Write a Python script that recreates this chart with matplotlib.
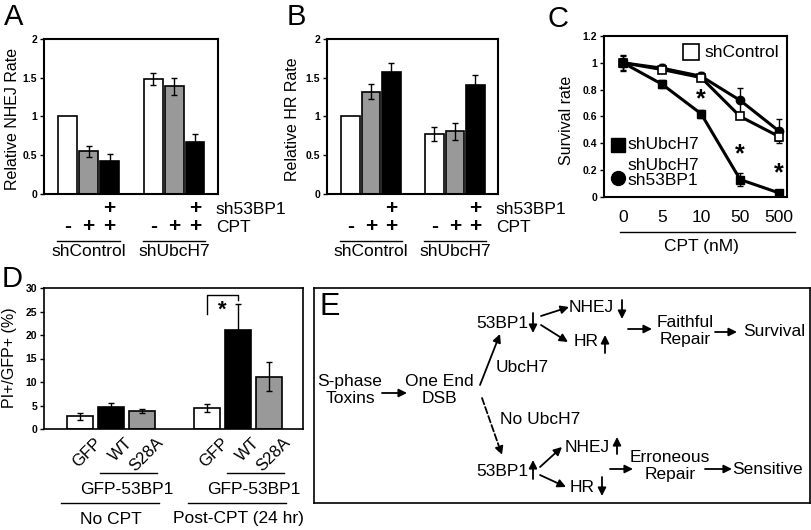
import matplotlib
matplotlib.use('Agg')
import matplotlib.pyplot as plt
from matplotlib.lines import Line2D
from matplotlib.transforms import blended_transform_factory

plt.rcParams['font.family'] = ['Liberation Sans', 'DejaVu Sans']
TICK_FONT = ['Liberation Sans Narrow', 'Liberation Sans', 'DejaVu Sans']

W, H = 812, 530

# ---- data ----
ab_groups = ['shControl', 'shUbcH7']
cpt_sign = ['-', '+', '+']
sh53_sign = ['', '', '+']
nhej = [1.0, 0.55, 0.43, 1.48, 1.39, 0.67]
nhej_err = [0, 0.07, 0.09, 0.08, 0.11, 0.10]
hr = [1.0, 1.32, 1.57, 0.78, 0.81, 1.41]
hr_err = [0, 0.10, 0.12, 0.09, 0.11, 0.12]

doses = ['0', '5', '10', '50', '500']
surv_ctrl = [1.0, 0.95, 0.89, 0.60, 0.45]
surv_ctrl_err = [0.03, 0.02, 0.02, 0.02, 0.03]
surv_ubc = [1.0, 0.84, 0.62, 0.13, 0.03]
surv_ubc_err = [0.05, 0.03, 0.03, 0.05, 0.01]
surv_dbl = [1.0, 0.96, 0.90, 0.72, 0.49]
surv_dbl_err = [0.06, 0.03, 0.03, 0.09, 0.09]
star_dose = [2, 3, 4]
star_y = [0.77, 0.36, 0.22]

d_labels = ['GFP', 'WT', 'S28A']
d_groups = ['No CPT', 'Post-CPT (24 hr)']
pi_gfp = [2.7, 4.6, 3.8, 4.5, 21.0, 11.1]
pi_gfp_err = [0.8, 1.0, 0.5, 0.9, 5.5, 3.1]

pos = [0, 1, 2, 4.1, 5.1, 6.1]
GRAY = '#999999'

fig = plt.figure(figsize=(W / 100, H / 100), dpi=100)


def px_rect(x0, y0, x1, y1):
    return [x0 / W, 1 - y1 / H, (x1 - x0) / W, (y1 - y0) / H]


def fy(y):
    return 1 - y / H


def hline(ax, x0, x1, y, lw=1.0):
    tr = blended_transform_factory(ax.transData, fig.transFigure)
    fig.add_artist(Line2D([x0, x1], [fy(y), fy(y)], transform=tr, color='black', lw=lw))


def btext(ax, x, y, s, **kw):
    tr = blended_transform_factory(ax.transData, fig.transFigure)
    fig.text(x, fy(y), s, transform=tr, **kw)


def style(ax, ticks, labels, lw=1.5):
    for s in ax.spines.values():
        s.set_linewidth(lw)
    ax.set_yticks(ticks, labels)
    ax.set_xticks([])
    ax.tick_params(axis='y', direction='out', length=3, width=1, pad=2)
    for lab in ax.get_yticklabels():
        lab.set_fontfamily(TICK_FONT)
        lab.set_fontweight('bold')
        lab.set_fontsize(7.5)


def bar_panel(rect, vals, errs, ylab, ylab_x, letter, letter_x):
    ax = fig.add_axes(px_rect(*rect))
    ax.bar(pos, vals, width=0.9, color=['white', GRAY, 'black'] * 2,
           edgecolor='black', linewidth=1.2, zorder=2)
    for p, v, e in zip(pos, vals, errs):
        if e > 0:
            ax.errorbar(p, v, yerr=e, color='black', lw=1, capsize=2, zorder=3)
    ax.set_xlim(-1.14, 7.2)
    ax.set_ylim(0, 2)
    style(ax, [0, 0.5, 1, 1.5, 2], ['0', '0.5', '1', '1.5', '2'])
    fig.text(ylab_x / W, fy(119), ylab, rotation=90, ha='center', va='center', fontsize=11.5)
    fig.text(letter_x / W, fy(17), letter, ha='left', va='center', fontsize=21)
    for g in range(2):
        p = pos[g * 3:(g + 1) * 3]
        for x, s1, s2 in zip(p, sh53_sign, cpt_sign):
            btext(ax, x, 208, s1, ha='center', va='center', fontsize=15, fontweight='bold')
            btext(ax, x, 227, s2, ha='center', va='center', fontsize=15, fontweight='bold')
        hline(ax, p[0] - 0.5, p[2] + 0.5, 241)
        btext(ax, p[1], 251, ab_groups[g], ha='center', va='center', fontsize=12.5)
    btext(ax, pos[5] + 1.0, 209, 'sh53BP1', ha='left', va='center', fontsize=12.5)
    btext(ax, pos[5] + 1.0, 228, 'CPT', ha='left', va='center', fontsize=12.5)
    return ax


bar_panel((44, 39, 218, 194), nhej, nhej_err, 'Relative NHEJ Rate', 13, 'A', 4)
bar_panel((327, 39, 498, 194), hr, hr_err, 'Relative HR Rate', 293, 'B', 287)

# ---- panel C ----
axc = fig.add_axes(px_rect(604, 36, 787, 197))
xs = list(range(len(doses)))
axc.errorbar(xs, surv_dbl, yerr=surv_dbl_err, color='black', lw=2.2, marker='o', ms=6,
             mfc='black', mec='black', capsize=2, elinewidth=1, zorder=3)
axc.errorbar(xs, surv_ctrl, yerr=surv_ctrl_err, color='black', lw=2.2, marker='s', ms=6,
             mfc='white', mec='black', mew=1.2, capsize=2, elinewidth=1, zorder=4)
axc.errorbar(xs, surv_ubc, yerr=surv_ubc_err, color='black', lw=2.2, marker='s', ms=6,
             mfc='black', mec='black', capsize=2, elinewidth=1, zorder=4)
for x, y in zip(star_dose, star_y):
    axc.text(x, y - 0.045, '*', ha='center', va='center', fontsize=18, fontweight='bold')
axc.set_xlim(-0.49, 4.2)
axc.set_ylim(0, 1.2)
style(axc, [0, 0.2, 0.4, 0.6, 0.8, 1.0, 1.2], ['0', '0.2', '0.4', '0.6', '0.8', '1', '1.2'])
axc.plot([0.475], [0.90], marker='s', ms=11, mfc='white', mec='black', mew=1.2,
         transform=axc.transAxes, clip_on=False)
axc.text(0.55, 0.90, 'shControl', transform=axc.transAxes, ha='left', va='center', fontsize=12.5)
axc.plot([0.075], [0.323], marker='s', ms=10, color='black', transform=axc.transAxes, clip_on=False)
axc.text(0.13, 0.323, 'shUbcH7', transform=axc.transAxes, ha='left', va='center', fontsize=12.5)
axc.plot([0.075], [0.12], marker='o', ms=10, color='black', transform=axc.transAxes, clip_on=False)
axc.text(0.13, 0.15, 'shUbcH7\nsh53BP1', transform=axc.transAxes, ha='left', va='center',
         fontsize=12.5, linespacing=1.05)
for x, d in zip(xs, doses):
    btext(axc, x, 218, d, ha='center', va='center', fontsize=12.5)
hline(axc, -0.08, 4.4, 232)
btext(axc, 2, 247, 'CPT (nM)', ha='center', va='center', fontsize=12.5)
fig.text(567 / W, fy(120), 'Survival rate', rotation=90, ha='center', va='center', fontsize=11.5)
fig.text(548 / W, fy(19), 'C', ha='left', va='center', fontsize=21)

# ---- panel D ----
axd = fig.add_axes(px_rect(44, 288, 303, 429))
axd.bar(pos, pi_gfp, width=0.84, color=['white', 'black', GRAY] * 2,
        edgecolor='black', linewidth=1.2, zorder=2)
axd.errorbar(pos, pi_gfp, yerr=pi_gfp_err, fmt='none', ecolor='black', elinewidth=1,
             capsize=2, zorder=3)
axd.set_xlim(-1.16, 7.2)
axd.set_ylim(0, 30)
style(axd, [0, 5, 10, 15, 20, 25, 30], ['0', '5', '10', '15', '20', '25', '30'], lw=1.2)
axd.plot([pos[3], pos[3], pos[4], pos[4]], [24.5, 28.5, 28.5, 27.4], color='black', lw=1)
axd.text((pos[3] + pos[4]) / 2, 25.3, '*', ha='center', va='center', fontsize=16, fontweight='bold')
trd = blended_transform_factory(axd.transData, fig.transFigure)
for g in range(2):
    p = pos[g * 3:(g + 1) * 3]
    for x, s in zip(p, d_labels):
        fig.text(x + 0.45, fy(435), s, transform=trd, rotation=45, ha='right', va='top',
                 rotation_mode='anchor', fontsize=12)
    hline(axd, p[1] - 0.35, p[2] + 0.5, 473)
    btext(axd, p[1] + 0.5, 489, 'GFP-53BP1', ha='center', va='center', fontsize=12.5)
    hline(axd, p[0] - 0.6, p[2] + 0.55, 503)
    btext(axd, p[1], 519, d_groups[g], ha='center', va='center', fontsize=12.5)
fig.text(10 / W, fy(358), 'PI+/GFP+ (%)', rotation=90, ha='center', va='center', fontsize=11.5)
fig.text(2 / W, fy(279), 'D', ha='left', va='center', fontsize=21)

# ---- panel E (diagram, pixel coordinates) ----
axe = fig.add_axes(px_rect(314, 288, 810, 503))
axe.set_xlim(314, 810)
axe.set_ylim(503, 288)
axe.set_xticks([])
axe.set_yticks([])
for s in axe.spines.values():
    s.set_linewidth(1.2)

e_texts = [
    (350, 390, 'S-phase\nToxins', 'center'),
    (439, 390, 'One End\nDSB', 'center'),
    (476, 323, '53BP1', 'left'),
    (569, 307, 'NHEJ', 'left'),
    (574, 342, 'HR', 'left'),
    (685, 331, 'Faithful\nRepair', 'center'),
    (774, 332, 'Survival', 'center'),
    (496, 367, 'UbcH7', 'left'),
    (500, 420, 'No UbcH7', 'left'),
    (476, 472, '53BP1', 'left'),
    (565, 448, 'NHEJ', 'left'),
    (570, 487, 'HR', 'left'),
    (670, 466, 'Erroneous\nRepair', 'center'),
    (768, 469, 'Sensitive', 'center'),
]
e_arrows = [
    ((382, 393), (407, 393), '-'),
    ((480, 385), (500, 334), '-'),
    ((482, 398), (502, 455), '--'),
    ((541, 316), (569, 307), '-'),
    ((541, 325), (568, 342), '-'),
    ((628, 329), (652, 329), '-'),
    ((715, 332), (737, 332), '-'),
    ((540, 467), (562, 447), '-'),
    ((540, 475), (566, 487), '-'),
    ((610, 469), (633, 469), '-'),
    ((705, 469), (732, 469), '-'),
    # up / down marks
    ((533, 313), (533, 333), '-'),
    ((622, 300), (622, 319), '-'),
    ((605, 353), (605, 335), '-'),
    ((533, 479), (533, 460), '-'),
    ((617, 454), (617, 437), '-'),
    ((602, 477), (602, 496), '-'),
]
for x, y, s, ha in e_texts:
    axe.text(x, y, s, ha=ha, va='center', fontsize=12.5, linespacing=1.1)
for start, end, ls in e_arrows:
    axe.annotate('', xy=end, xytext=start,
                 arrowprops=dict(arrowstyle='-|>', color='black', lw=1.3, linestyle=ls,
                                 shrinkA=0, shrinkB=0, mutation_scale=12))
axe.text(320, 307, 'E', ha='left', va='center', fontsize=22)

fig.savefig('out.png', dpi=100)
